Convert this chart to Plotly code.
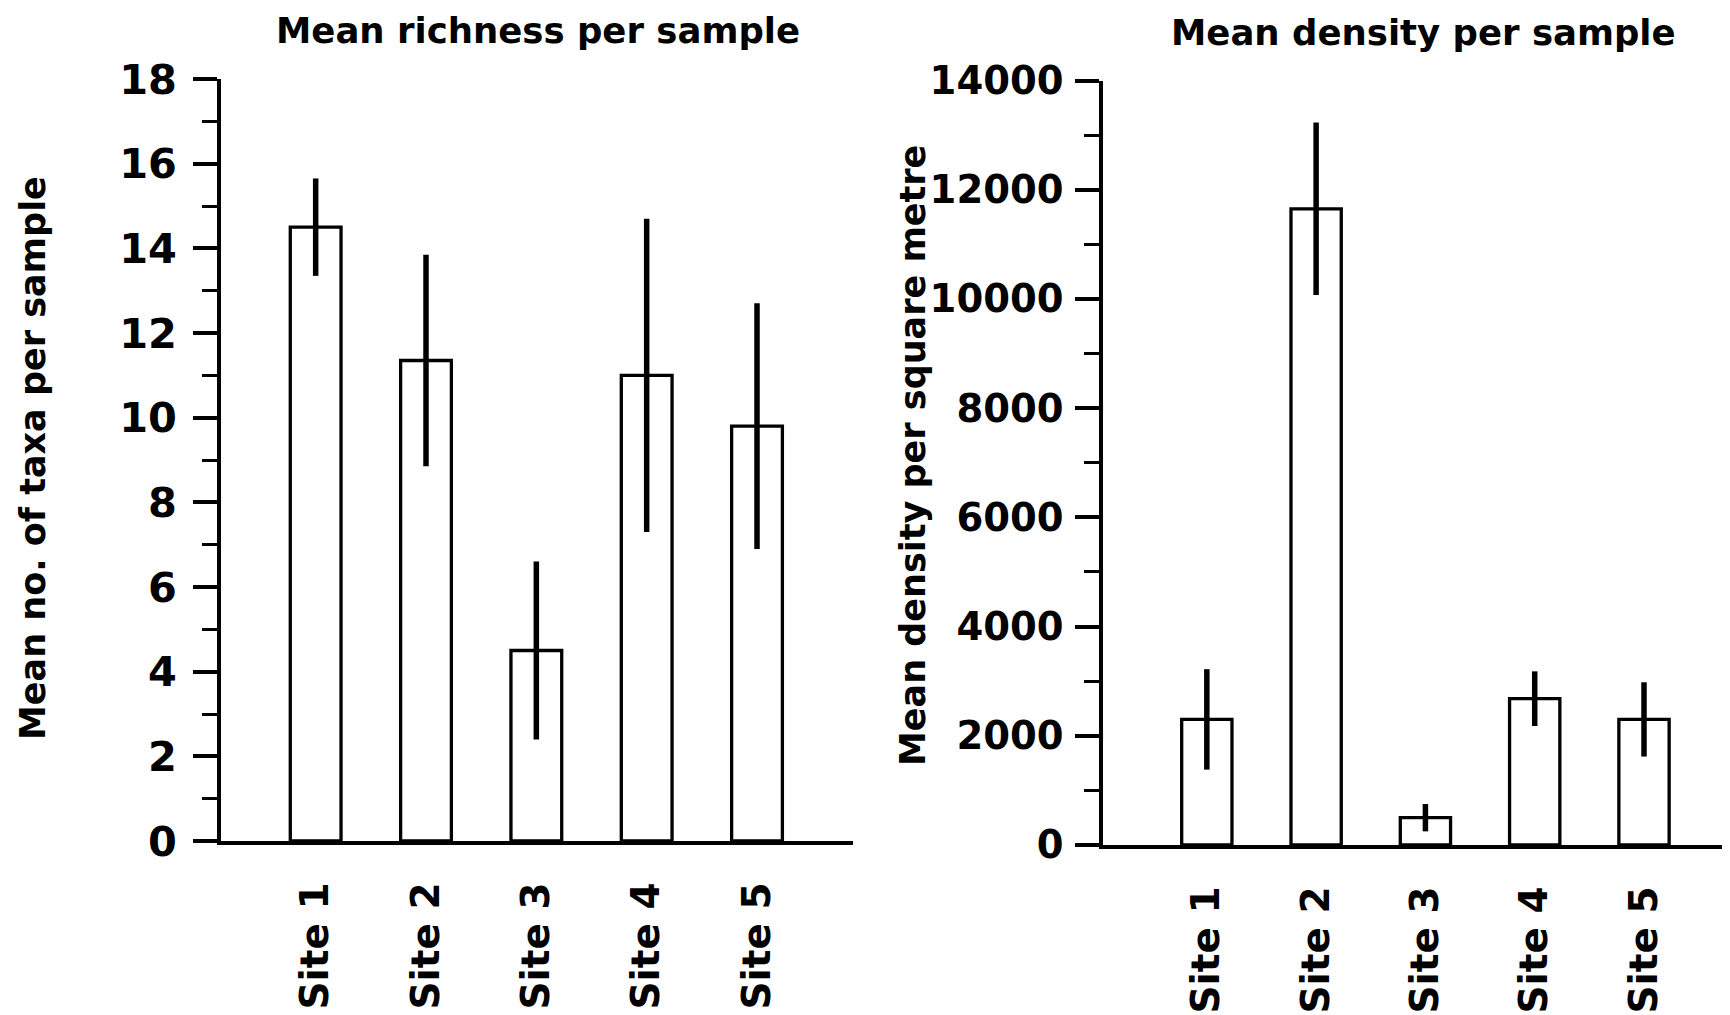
import plotly.graph_objects as go

sites = ["Site 1", "Site 2", "Site 3", "Site 4", "Site 5"]
richness_mean = [14.5, 11.35, 4.5, 11.0, 9.8]
richness_err = [1.15, 2.5, 2.1, 3.7, 2.9]
density_mean = [2300, 11650, 500, 2680, 2300]
density_err = [920, 1580, 250, 500, 680]

FONT = "DejaVu Sans"
W, H = 1730, 1015
OFF = 8  # page body margin


def px(v):
    return (v - OFF) / W


def py(v):
    return 1 - (v - OFF) / H


fig = go.Figure()

bar_style = dict(marker=dict(color="white", line=dict(color="black", width=3.3)), width=0.46)
err_style = dict(type="data", symmetric=True, color="black", thickness=5.5, width=0)

fig.add_trace(go.Bar(x=sites, y=richness_mean, error_y=dict(array=richness_err, **err_style),
                     xaxis="x", yaxis="y", **bar_style))
fig.add_trace(go.Bar(x=sites, y=density_mean, error_y=dict(array=density_err, **err_style),
                     xaxis="x2", yaxis="y2", **bar_style))

xtickfont = dict(family=FONT, size=39, color="black", weight="bold")

common_x = dict(showline=True, linecolor="black", linewidth=3.5, ticks="", showgrid=False,
                zeroline=False, tickangle=-90, tickfont=xtickfont, ticklabelstandoff=22,
                automargin=False)
common_y = dict(showline=True, linecolor="black", linewidth=3.5, ticks="outside", ticklen=24,
                tickwidth=3.5, tickcolor="black", showgrid=False, zeroline=False,
                automargin=False)

fig.update_layout(
    template="none",
    width=W, height=H,
    margin=dict(l=0, r=0, t=0, b=0, pad=0),
    paper_bgcolor="white", plot_bgcolor="white",
    showlegend=False,
    xaxis=dict(domain=[px(221), px(853)], range=[-0.858, 4.87], anchor="y", **common_x),
    yaxis=dict(domain=[py(841), py(79)], range=[0, 18], dtick=2, anchor="x",
               tickfont=dict(family=FONT, size=41.5, color="black", weight="bold"),
               ticklabelstandoff=8,
               minor=dict(dtick=1, ticks="outside", ticklen=15, tickwidth=3, tickcolor="black"),
               **common_y),
    xaxis2=dict(domain=[px(1103), 1.0], range=[-0.95, 4.86], anchor="y2", **common_x),
    yaxis2=dict(domain=[py(845), py(80.5)], range=[0, 14000], dtick=2000, anchor="x2",
                tickformat="d",
                tickfont=dict(family=FONT, size=38.5, color="black", weight="bold"),
                ticklabelstandoff=4,
                minor=dict(dtick=1000, ticks="outside", ticklen=15, tickwidth=3, tickcolor="black"),
                **common_y),
)

title_font = dict(family=FONT, size=35.5, color="black", weight="bold")
axis_title_font = dict(family=FONT, size=35, color="black", weight="bold")
fig.add_annotation(text="Mean richness per sample", x=px(538), y=py(31), xref="paper", yref="paper",
                   showarrow=False, font=title_font, xanchor="center", yanchor="middle")
fig.add_annotation(text="Mean density per sample", x=px(1423), y=py(33), xref="paper", yref="paper",
                   showarrow=False, font=title_font, xanchor="center", yanchor="middle")
fig.add_annotation(text="Mean no. of taxa per sample", x=px(33), y=py(458), xref="paper", yref="paper",
                   showarrow=False, font=axis_title_font, textangle=-90, xanchor="center", yanchor="middle")
fig.add_annotation(text="Mean density per square metre", x=px(913), y=py(456), xref="paper", yref="paper",
                   showarrow=False, font=axis_title_font, textangle=-90, xanchor="center", yanchor="middle")

fig.write_html("out.html")
